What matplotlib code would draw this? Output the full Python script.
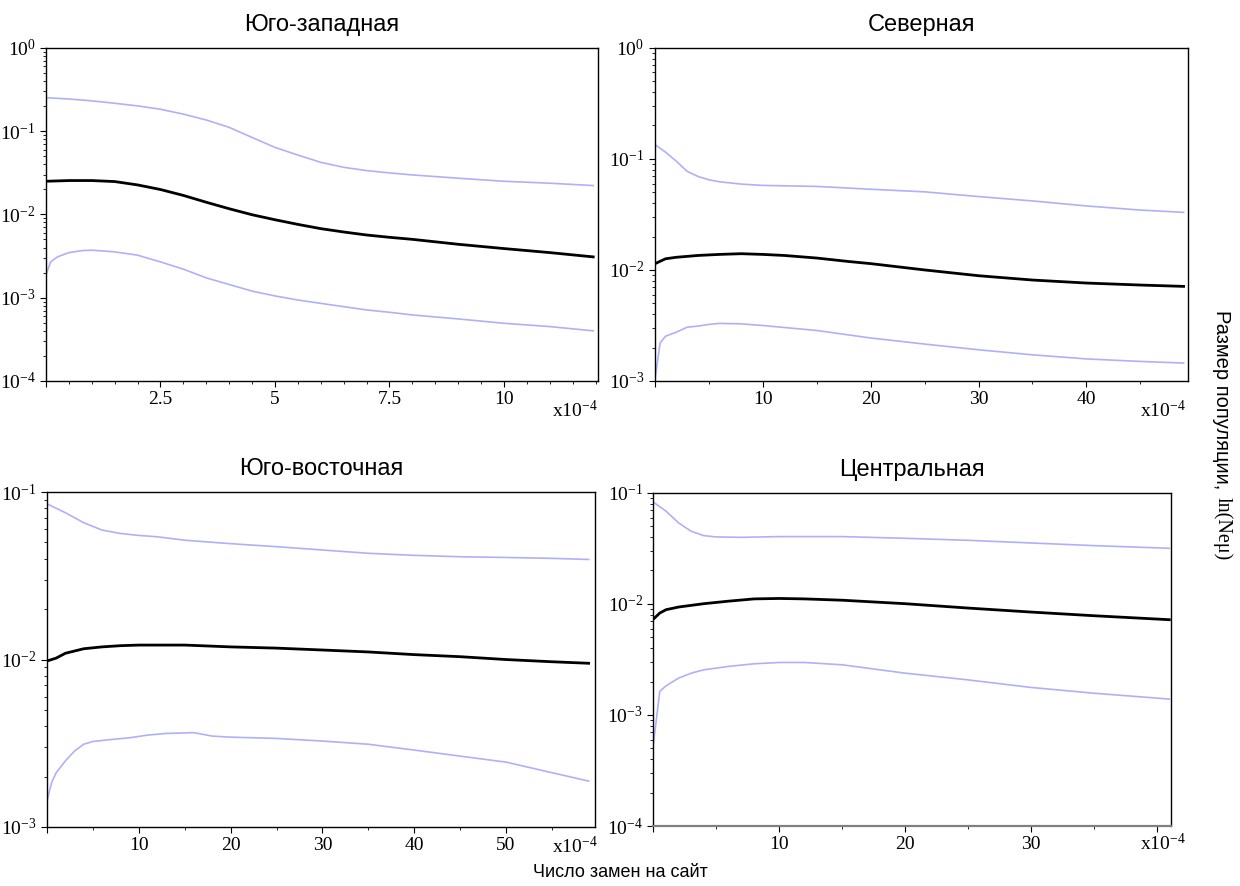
import numpy as np
import matplotlib.pyplot as plt
from matplotlib.ticker import MultipleLocator, LogLocator, LogFormatterMathtext, NullFormatter

plt.rcParams['mathtext.fontset'] = 'stix'

# Юго-западная
sw_up_x = [0, 0.5, 1, 1.5, 2, 2.5, 3, 3.5, 4, 4.5, 5, 5.5, 6, 6.5, 7, 7.5, 8, 9, 10, 11, 11.95]
sw_up = [0.252, 0.243, 0.231, 0.216, 0.201, 0.183, 0.160, 0.136, 0.111, 0.0839, 0.0638, 0.0516,
         0.0422, 0.0368, 0.0336, 0.0315, 0.0298, 0.0272, 0.0250, 0.0237, 0.0222]
sw_med_x = sw_up_x
sw_med = [0.0250, 0.0255, 0.0255, 0.0248, 0.0226, 0.0199, 0.0169, 0.0140, 0.0117, 0.00991, 0.00863,
          0.00759, 0.00675, 0.00615, 0.00566, 0.00531, 0.00502, 0.00438, 0.00389, 0.00348, 0.00309]
sw_lo_x = [0, 0.1, 0.25, 0.5, 0.8, 1, 1.5, 2, 2.5, 3, 3.5, 4, 4.5, 5, 5.5, 6, 6.5, 7, 7.5, 8, 9, 10, 11, 11.95]
sw_lo = [0.00187, 0.00269, 0.00309, 0.00348, 0.00368, 0.00372, 0.00355, 0.00324, 0.00269, 0.00220,
         0.00173, 0.00144, 0.00120, 0.00105, 0.000938, 0.000855, 0.000780, 0.000713, 0.000668,
         0.000621, 0.000556, 0.000493, 0.000450, 0.000400]

# Северная
n_up_x = [0, 1, 2, 3, 4, 5, 6, 8, 10, 15, 20, 25, 30, 35, 40, 45, 49]
n_up = [0.135, 0.115, 0.0953, 0.0773, 0.0695, 0.0649, 0.0622, 0.0593, 0.0577, 0.0565, 0.0533,
        0.0505, 0.0458, 0.0418, 0.0377, 0.0346, 0.0330]
n_med_x = [0, 1, 2, 4, 6, 8, 10, 12, 15, 18, 20, 25, 30, 35, 40, 45, 49]
n_med = [0.01135, 0.0126, 0.0130, 0.0135, 0.0138, 0.0140, 0.0138, 0.0135, 0.0128, 0.0119, 0.0114,
         0.0100, 0.00887, 0.00811, 0.00762, 0.00731, 0.00711]
n_lo_x = [0, 0.5, 1, 2, 3, 4, 5, 6, 8, 10, 15, 20, 25, 30, 35, 40, 45, 49]
n_lo = [0.001, 0.0022, 0.00253, 0.00275, 0.00305, 0.00312, 0.00323, 0.0033, 0.00327, 0.00316,
        0.00285, 0.00244, 0.00215, 0.00191, 0.00172, 0.00158, 0.0015, 0.00145]

# Юго-восточная
se_up_x = [0, 2, 4, 6, 8, 10, 12, 15, 20, 25, 30, 35, 40, 45, 50, 55, 59]
se_up = [0.0851, 0.0753, 0.0656, 0.0593, 0.0566, 0.0551, 0.0541, 0.0516, 0.0492, 0.0472, 0.0451,
         0.0431, 0.0419, 0.0411, 0.0407, 0.0402, 0.0396]
se_med_x = [0, 1, 2, 4, 6, 8, 10, 15, 20, 25, 30, 35, 40, 45, 50, 55, 59]
se_med = [0.0098, 0.0102, 0.0109, 0.0116, 0.0119, 0.0121, 0.0122, 0.0122, 0.0119, 0.0117, 0.0114,
          0.0111, 0.0107, 0.0104, 0.0100, 0.0097, 0.0095]
se_lo_x = [0, 0.5, 1, 2, 3, 4, 5, 7, 9, 11, 13, 16, 18, 20, 25, 30, 35, 40, 45, 50, 55, 59]
se_lo = [0.00143, 0.00184, 0.00211, 0.00248, 0.00284, 0.00312, 0.00324, 0.00333, 0.00341, 0.00354,
         0.00362, 0.00366, 0.00349, 0.00344, 0.00338, 0.00326, 0.00312, 0.00288, 0.00265, 0.00244,
         0.00211, 0.00188]

# Центральная
c_up_x = [0, 1, 2, 3, 4, 5, 7, 10, 15, 20, 25, 30, 35, 41]
c_up = [0.0824, 0.0684, 0.0536, 0.0451, 0.0412, 0.0401, 0.0398, 0.0404, 0.0404, 0.0390, 0.0374,
        0.0354, 0.0335, 0.0317]
c_med_x = [0, 0.5, 1, 2, 4, 6, 8, 10, 12, 15, 20, 25, 30, 35, 41]
c_med = [0.00731, 0.00828, 0.00887, 0.00938, 0.01005, 0.0106, 0.0111, 0.0112, 0.0111, 0.0108,
         0.01005, 0.00918, 0.00845, 0.00783, 0.00721]
c_lo_x = [0, 0.5, 1, 2, 3, 4, 6, 8, 10, 12, 15, 18, 20, 25, 30, 35, 41]
c_lo = [0.000557, 0.00163, 0.00183, 0.00215, 0.00238, 0.00255, 0.00274, 0.00289, 0.00297, 0.00297,
        0.00283, 0.00255, 0.00238, 0.00207, 0.00177, 0.00157, 0.00139]

titles = ["Юго-западная", "Северная", "Юго-восточная", "Центральная"]
xlims = [12.05, 49.4, 59.7, 41.1]
ylims = [(1e-4, 1), (1e-3, 1), (1e-3, 1e-1), (1e-4, 1e-1)]
major = [2.5, 10, 10, 10]
minor = [0.5, 5, 5, 5]
label_max = [10, 40, 50, 30]
series = [
    (sw_up_x, sw_up, sw_med_x, sw_med, sw_lo_x, sw_lo),
    (n_up_x, n_up, n_med_x, n_med, n_lo_x, n_lo),
    (se_up_x, se_up, se_med_x, se_med, se_lo_x, se_lo),
    (c_up_x, c_up, c_med_x, c_med, c_lo_x, c_lo),
]
rects = [
    [0.0371, 0.570, 0.445, 0.376],
    [0.528, 0.570, 0.430, 0.376],
    [0.0379, 0.0666, 0.442, 0.378],
    [0.527, 0.0677, 0.417, 0.376],
]
# where the "x10^-4" note sits: right edge and top, in figure pixels
note_pos = [(598, 400), (1186, 400), (598, 836), (1186, 833)]

ci_color = '#b0b0fa'
serif = 'Liberation Serif'
sans = 'Liberation Sans'

fig = plt.figure(figsize=(12.4, 8.86), dpi=100)
W, H = 1240, 886

for i in range(4):
    ax = fig.add_axes(rects[i])
    ux, uy, mx, my, lx, ly = series[i]
    ax.plot(ux, uy, color=ci_color, lw=1.2)
    ax.plot(lx, ly, color=ci_color, lw=1.2)
    ax.plot(mx, my, color='black', lw=2)
    ax.set_yscale('log')
    ax.set_xlim(0, xlims[i])
    ax.set_ylim(*ylims[i])
    ax.xaxis.set_major_locator(MultipleLocator(major[i]))
    ax.xaxis.set_minor_locator(MultipleLocator(minor[i]))
    lm = label_max[i]
    ax.xaxis.set_major_formatter(lambda v, p, lm=lm: '' if (v == 0 or v > lm + 1e-9) else ('%g' % v))
    ax.yaxis.set_major_locator(LogLocator(base=10))
    ax.yaxis.set_minor_locator(LogLocator(base=10, subs=np.arange(2, 10)))
    ax.yaxis.set_major_formatter(LogFormatterMathtext())
    ax.yaxis.set_minor_formatter(NullFormatter())
    ax.tick_params(which='both', direction='out', top=False, right=False, labelsize=14)
    ax.tick_params(which='major', length=4, width=0.8)
    ax.tick_params(which='minor', length=2.5, width=0.6)
    for lab in ax.get_xticklabels() + ax.get_yticklabels():
        lab.set_fontfamily(serif)
    for s in ax.spines.values():
        s.set_linewidth(1)
    if i == 3:
        ax.spines['bottom'].set_color('#808080')
        ax.spines['bottom'].set_linewidth(1.6)
    ax.set_title(titles[i], fontsize=17, family=sans, pad=12)
    nx, ny = note_pos[i]
    fig.text(nx / W, 1 - ny / H, r'x$\mathregular{10^{-4}}$', ha='right', va='top',
             fontsize=14, family=serif)

fig.text(0.5, 0.006, 'Число замен на сайт', ha='center', va='bottom', fontsize=13, family=sans)
fig.text(1222 / W, 1 - 310 / H, 'Размер популяции,', rotation=270, rotation_mode='anchor',
         ha='left', va='center', fontsize=14.5, family=sans)
fig.text(1222 / W, 1 - 497 / H, 'ln(Neμ)', rotation=270, rotation_mode='anchor',
         ha='left', va='center', fontsize=14.5, family=serif)

fig.savefig('out.png', dpi=100)
